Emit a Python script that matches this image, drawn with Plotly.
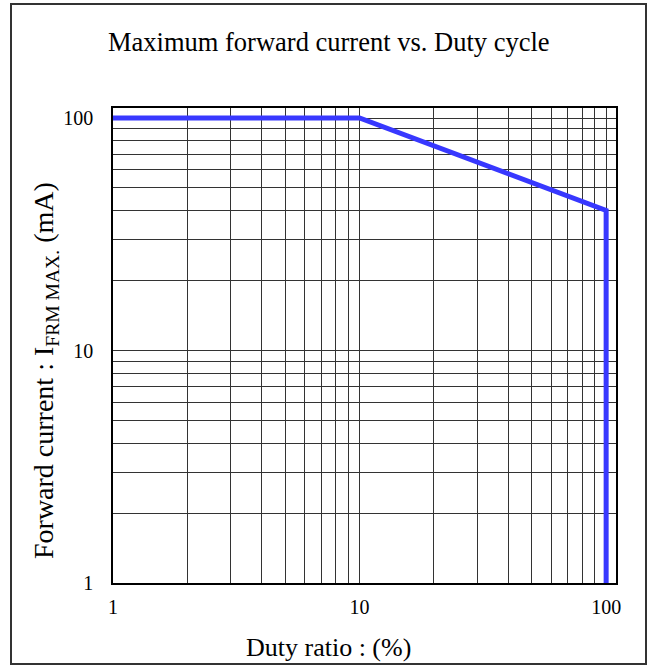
import plotly.graph_objects as go

duty = [1, 10, 100, 100]
current = [100, 100, 40, 1]

grid_vals = [m * 10 ** e for e in range(0, 2) for m in range(1, 10)] + [100]
x_labels = {1: "1", 10: "10", 100: "100"}
y_labels = {1: "1", 10: "10", 100: "100"}

font_family = "Liberation Serif, Times New Roman, serif"

# plot area in window pixels (body margin removed via post_script)
OFF = 0
PL, PR, PT, PB = 113, 616, 108, 583
W, H = 653, 667
PW, PH = PR - PL, PB - PT


def px(x):
    return (x - PL) / PW


def py(y):
    return (PB - y) / PH


fig = go.Figure()
fig.add_trace(go.Scatter(x=duty, y=current, mode="lines",
                         line=dict(color="#3838FF", width=5), showlegend=False))

fig.update_layout(
    width=W, height=H,
    margin=dict(l=PL - OFF, r=W - (PR - OFF), t=PT - OFF, b=H - (PB - OFF)),
    paper_bgcolor="white", plot_bgcolor="white",
    font=dict(family=font_family, color="black", size=20),
    xaxis=dict(type="log", range=[0, 2.04], tickvals=grid_vals,
               ticktext=[x_labels.get(v, "") for v in grid_vals],
               showgrid=True, gridcolor="#333333", gridwidth=1,
               showline=True, linecolor="black", linewidth=1.5, mirror=True,
               ticks="", ticklabelstandoff=5, zeroline=False),
    yaxis=dict(type="log", range=[0, 2.043], tickvals=grid_vals,
               ticktext=[y_labels.get(v, "") for v in grid_vals],
               showgrid=True, gridcolor="#333333", gridwidth=1,
               showline=True, linecolor="black", linewidth=1.5, mirror=True,
               ticks="", ticklabelstandoff=14, zeroline=False),
    shapes=[dict(type="rect", xref="paper", yref="paper",
                 x0=px(11), x1=px(646), y0=py(664), y1=py(4),
                 line=dict(color="#333333", width=2), layer="below")],
    annotations=[
        dict(text="Maximum forward current vs. Duty cycle", xref="paper", yref="paper",
             x=px(328.5), y=py(42), xanchor="center", yanchor="middle",
             showarrow=False, font=dict(size=26.5)),
        dict(text="Duty ratio : (%)", xref="paper", yref="paper",
             x=px(328), y=py(647), xanchor="center", yanchor="middle",
             showarrow=False, font=dict(size=26)),
        dict(text="Forward current : I<sub>FRM MAX.</sub> (mA)", xref="paper", yref="paper",
             x=px(45), y=py(371), xanchor="center", yanchor="middle", textangle=-90,
             showarrow=False, font=dict(size=28)),
    ],
)

fig.write_html("out.html", post_script="document.body.style.margin='0';",
               config={"displayModeBar": False})
